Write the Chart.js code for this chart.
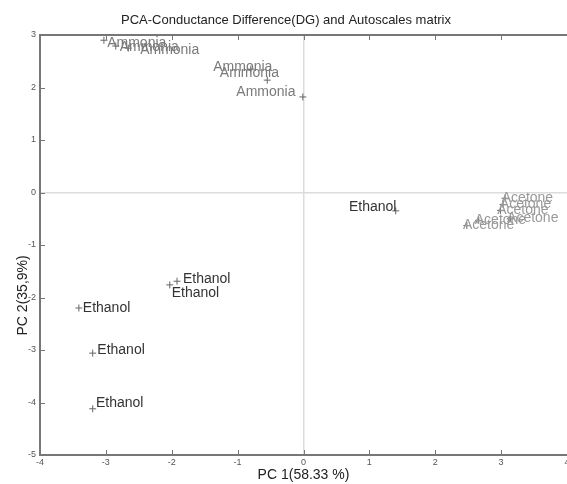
<!DOCTYPE html>
<html>
<head>
<meta charset="utf-8">
<script src="https://cdn.jsdelivr.net/npm/chart.js@4.4.0/dist/chart.umd.min.js"></script>
<style>
  html, body { margin: 0; padding: 0; background: #fff; overflow: hidden; }
  #wrap { width: 572px; height: 484px; position: relative; }
</style>
</head>
<body>
<div id="wrap"><canvas id="pca"></canvas></div>
<script>
// Scores (PC1, PC2)
const ammoniaX = [-3.03, -2.85, -2.66, -0.80, -0.55, -0.01];
const ammoniaY = [2.90, 2.79, 2.75, 2.35, 2.14, 1.82];
const ethanolX = [-3.41, -3.20, -3.20, -2.03, -1.92, 1.40];
const ethanolY = [-2.20, -3.06, -4.12, -1.76, -1.69, -0.35];
const acetoneX = [3.06, 3.03, 2.99, 3.14, 2.66, 2.48];
const acetoneY = [-0.11, -0.23, -0.34, -0.50, -0.53, -0.63];

// Where each text label sits (data units, left edge / middle)
const ammoniaTextX = [-2.98, -2.79, -2.48, -1.37, -1.27, -1.02];
const ammoniaTextY = [2.85, 2.77, 2.71, 2.39, 2.28, 1.91];
const ethanolTextX = [-3.35, -3.13, -3.15, -2.00, -1.83, 0.69];
const ethanolTextY = [-2.20, -3.00, -4.01, -1.91, -1.65, -0.28];
const acetoneTextX = [3.01, 2.98, 2.94, 3.09, 2.60, 2.42];
const acetoneTextY = [-0.10, -0.22, -0.33, -0.49, -0.52, -0.62];

const xTicks = [-4, -3, -2, -1, 0, 1, 2, 3, 4];
const yTicks = [-5, -4, -3, -2, -1, 0, 1, 2, 3];

const FONT = '"Liberation Sans", Arial, sans-serif';

function toPoints(xs, ys) {
    return xs.map((x, i) => ({ x: x, y: ys[i] }));
}

const groups = [
    { name: 'Ammonia', xs: ammoniaX, ys: ammoniaY, tx: ammoniaTextX, ty: ammoniaTextY, color: '#7a7a7a' },
    { name: 'Ethanol', xs: ethanolX, ys: ethanolY, tx: ethanolTextX, ty: ethanolTextY, color: '#333333' },
    { name: 'Acetone', xs: acetoneX, ys: acetoneY, tx: acetoneTextX, ty: acetoneTextY, color: '#999999' }
];

// labels next to the points
const textLabels = {
    id: 'textLabels',
    afterDatasetsDraw(chart) {
        const ctx = chart.ctx;
        const xs = chart.scales.x, ys = chart.scales.y;
        ctx.save();
        ctx.font = '14px ' + FONT;
        ctx.textAlign = 'left';
        ctx.textBaseline = 'middle';
        groups.forEach(g => {
            ctx.fillStyle = g.color;
            g.tx.forEach((tx, i) => {
                ctx.fillText(g.name, xs.getPixelForValue(tx), ys.getPixelForValue(g.ty[i]));
            });
        });
        ctx.restore();
    }
};

// inward tick marks (matlab style) + rotated y title
const matlabAxes = {
    id: 'matlabAxes',
    afterDraw(chart) {
        const ctx = chart.ctx;
        const a = chart.chartArea;
        const xs = chart.scales.x, ys = chart.scales.y;
        ctx.save();
        ctx.strokeStyle = '#777';
        ctx.lineWidth = 1;
        xTicks.forEach(v => {
            const px = Math.round(xs.getPixelForValue(v)) + 0.5;
            ctx.beginPath();
            ctx.moveTo(px, a.bottom); ctx.lineTo(px, a.bottom - 5);
            ctx.moveTo(px, a.top); ctx.lineTo(px, a.top + 5);
            ctx.stroke();
        });
        yTicks.forEach(v => {
            const py = Math.round(ys.getPixelForValue(v)) + 0.5;
            ctx.beginPath();
            ctx.moveTo(a.left, py); ctx.lineTo(a.left + 5, py);
            ctx.stroke();
        });
        // y axis title
        ctx.fillStyle = '#222';
        ctx.font = '14px ' + FONT;
        ctx.textAlign = 'center';
        ctx.textBaseline = 'middle';
        ctx.translate(23, a.top + (a.bottom - a.top) * 0.62);
        ctx.rotate(-Math.PI / 2);
        ctx.fillText('PC 2(35,9%)', 0, 0);
        ctx.restore();
    }
};

const chart = new Chart(document.getElementById('pca').getContext('2d'), {
    type: 'scatter',
    data: {
        datasets: groups.map(g => ({
            label: g.name,
            data: toPoints(g.xs, g.ys),
            pointStyle: 'cross',
            pointRadius: 3.5,
            pointBorderWidth: 1,
            borderColor: '#666',
            backgroundColor: '#666'
        }))
    },
    options: {
        responsive: true,
        maintainAspectRatio: false,
        animation: false,
        layout: { padding: 0 },
        plugins: {
            legend: { display: false },
            tooltip: { enabled: false },
            title: {
                display: true,
                text: 'PCA-Conductance Difference(DG) and Autoscales matrix',
                color: '#222',
                font: { family: FONT, size: 13, weight: 'normal', lineHeight: 1.2 },
                padding: { top: 13, bottom: 6.4 }
            }
        },
        scales: {
            x: {
                type: 'linear',
                min: -4, max: 4,
                afterBuildTicks: s => { s.ticks = xTicks.map(v => ({ value: v })); },
                afterFit: s => { s.height = 29; s.paddingLeft = 0; s.paddingRight = 0; },
                ticks: {
                    color: '#555',
                    font: { family: FONT, size: 9 },
                    padding: 2,
                    maxRotation: 0
                },
                grid: {
                    drawTicks: false,
                    color: c => c.tick && c.tick.value === 0 ? '#dcdcdc' : 'rgba(0,0,0,0)',
                    lineWidth: 1.5
                },
                border: { display: true, color: '#777', width: 2 },
                title: {
                    display: true,
                    text: 'PC 1(58.33 %)',
                    color: '#222',
                    font: { family: FONT, size: 14, lineHeight: 1.2 },
                    padding: { top: 0, bottom: 0 }
                }
            },
            y: {
                type: 'linear',
                min: -5, max: 3,
                afterBuildTicks: s => { s.ticks = yTicks.map(v => ({ value: v })); },
                afterFit: s => { s.width = 40; s.paddingTop = 0; s.paddingBottom = 0; },
                ticks: {
                    color: '#555',
                    font: { family: FONT, size: 9 },
                    padding: 4
                },
                grid: {
                    drawTicks: false,
                    color: c => {
                        if (!c.tick) return 'rgba(0,0,0,0)';
                        if (c.tick.value === 0) return '#dcdcdc';
                        if (c.tick.value === 3) return '#777';
                        return 'rgba(0,0,0,0)';
                    },
                    lineWidth: c => c.tick && c.tick.value === 3 ? 2 : 1.5
                },
                border: { display: true, color: '#777', width: 2 }
            }
        }
    },
    plugins: [textLabels, matlabAxes]
});
</script>
</body>
</html>
